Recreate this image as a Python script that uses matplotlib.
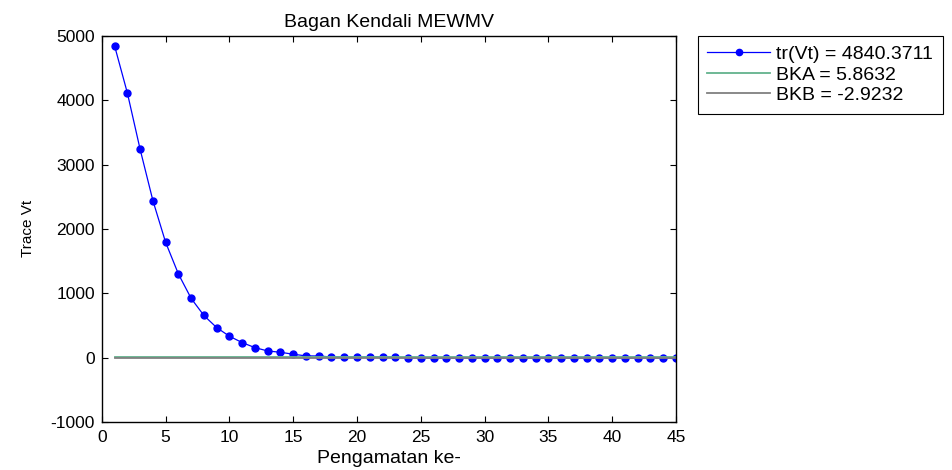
import numpy as np
import matplotlib.pyplot as plt

plt.rcParams['font.family'] = ['Liberation Sans', 'DejaVu Sans']
plt.rcParams['font.size'] = 12.5
plt.rcParams['axes.unicode_minus'] = False

obs = np.arange(1, 46)
trace_vt = [4840.3711, 4110, 3235, 2440, 1790, 1300, 920, 655, 467, 333,
            234, 156, 104, 84, 53, 28, 26, 10, 9, 8,
            10, 11, 9, -5, -8, -8, -8, -8, -8, -8,
            -8, -8, -8, -8, -8, -8, -8, -8, -8, -8,
            -8, -8, -8, -8, -8]
bka = 5.8632
bkb = -2.9232

fig = plt.figure(figsize=(9.52, 4.70), dpi=100)
ax = fig.add_axes([0.107, 0.102, 0.603, 0.822])

ax.plot(obs, trace_vt, '-o', color='blue', lw=0.9, ms=5,
        label='tr(Vt) = %.4f' % trace_vt[0])
ax.plot(obs, [bka] * len(obs), color='#62b28c', lw=1.3, label='BKA = %.4f' % bka)
ax.plot(obs, [bkb] * len(obs), color='#808080', lw=1.3, label='BKB = %.4f' % bkb)

ax.set_xlim(0, 45)
ax.set_ylim(-1000, 5000)
ax.set_xticks(range(0, 46, 5))
ax.set_yticks(range(-1000, 5001, 1000))
ax.tick_params(direction='in', top=True, right=True, length=4, width=0.8)
ax.tick_params(axis='y', pad=5)
ax.tick_params(axis='x', pad=6)
for s in ax.spines.values():
    s.set_linewidth(1.0)

ax.set_title('Bagan Kendali MEWMV', fontsize=14, pad=6)
ax.set_xlabel('Pengamatan ke-', fontsize=14, labelpad=3)
ax.set_ylabel('Trace Vt', fontsize=11, labelpad=11)

leg = ax.legend(loc='upper left', bbox_to_anchor=(1.038, 1.0), fancybox=False,
                edgecolor='black', framealpha=1, borderaxespad=0,
                fontsize=14, handlelength=3.2, labelspacing=0.15,
                borderpad=0.5, handletextpad=0.35, markerscale=0.9)
leg.get_frame().set_linewidth(0.8)

plt.savefig('out.png', dpi=100)
